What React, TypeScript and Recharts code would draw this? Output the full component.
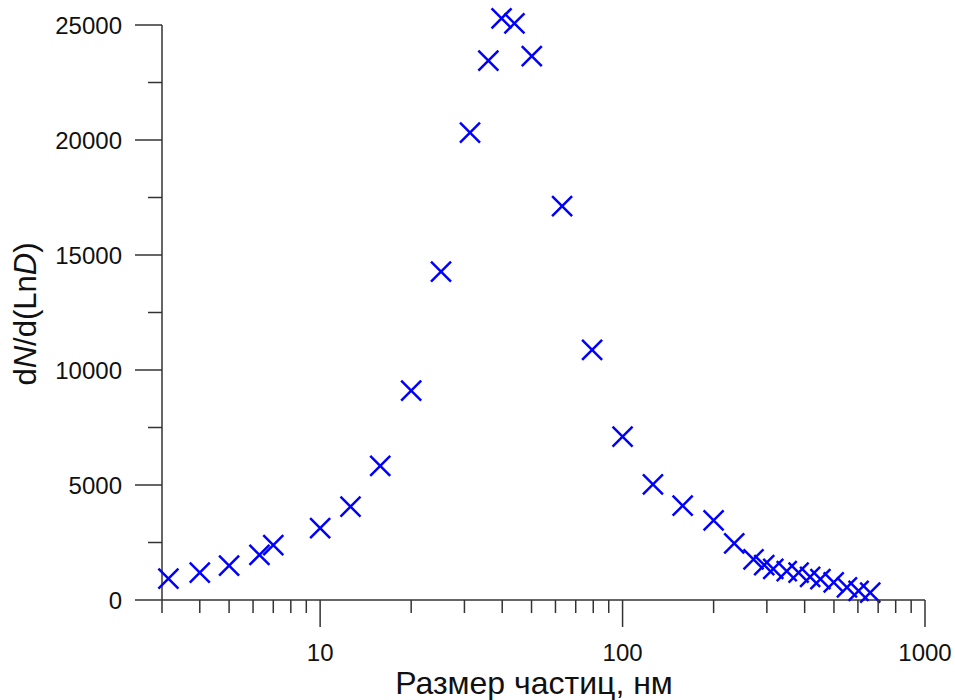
import { ScatterChart, Scatter, XAxis, YAxis } from "recharts";

// particle size, nm
const sizes = [
  3.15, 4.0, 5.0, 6.3, 7.0, 10, 12.6, 15.8, 20, 25.1, 31.3, 36, 39.8, 43.9, 50.1,
  63.1, 79.3, 100, 126, 158, 200, 234, 271, 294, 315, 349, 382, 417, 451, 499,
  552, 603, 659,
];
// dN/d(LnD)
const counts = [
  930, 1190, 1490, 1960, 2390, 3120, 4060, 5830, 9100, 14280, 20320, 23450, 25290,
  25070, 23650, 17130, 10870, 7100, 5030, 4100, 3460, 2460, 1770, 1520, 1350,
  1260, 1190, 1010, 910, 770, 550, 400, 320,
];

const xMajorTicks = [10, 100, 1000];
const xMinorTicks = [3, 4, 5, 6, 7, 8, 9, 20, 30, 40, 50, 60, 70, 80, 90, 200, 300, 400, 500, 600, 700, 800, 900];
const yTicks = [0, 2500, 5000, 7500, 10000, 12500, 15000, 17500, 20000, 22500, 25000];
const yLabelStep = 5000;

const data = sizes.map((x, i) => ({ x, y: counts[i] }));

const FONT = '"Liberation Sans", Arial, sans-serif';
const AXIS = "#333";
const MARK = "#0000ff";

function XTick(props: any) {
  const { x, y, payload } = props;
  const major = xMajorTicks.includes(payload.value);
  return (
    <g>
      <line x1={x} x2={x} y1={y} y2={y + (major ? 27 : 13)} stroke={AXIS} strokeWidth={1.5} />
      {major && (
        <text x={x} y={y + 61} textAnchor="middle" fontSize={24} fontFamily={FONT} fill="#111">
          {payload.value}
        </text>
      )}
    </g>
  );
}

function YTick(props: any) {
  const { x, y, payload } = props;
  const major = payload.value % yLabelStep === 0;
  return (
    <g>
      <line x1={x - (major ? 27 : 14)} x2={x} y1={y} y2={y} stroke={AXIS} strokeWidth={1.5} />
      {major && (
        <text x={x - 40} y={y + 9} textAnchor="end" fontSize={24} fontFamily={FONT} fill="#111">
          {payload.value}
        </text>
      )}
    </g>
  );
}

function Cross(props: any) {
  const { cx, cy } = props;
  const r = 10;
  return (
    <path
      d={`M${cx - r},${cy - r}L${cx + r},${cy + r}M${cx - r},${cy + r}L${cx + r},${cy - r}`}
      stroke={MARK}
      strokeWidth={2.5}
      fill="none"
    />
  );
}

export default function App() {
  return (
    <div style={{ position: "absolute", left: 0, top: 0, background: "#fff" }}>
      {/* points above 25000 must not be clipped at the top of the plot */}
      <style>{`.recharts-scatter, .recharts-scatter-symbol { clip-path: none !important; }`}</style>
      <ScatterChart width={955} height={700} margin={{ top: 25, right: 30, bottom: 0, left: 0 }}>
        <XAxis
          type="number"
          dataKey="x"
          scale="log"
          domain={[3, 1000]}
          allowDataOverflow
          ticks={[...xMinorTicks, ...xMajorTicks].sort((a, b) => a - b)}
          interval={0}
          height={100}
          tickSize={0}
          tickMargin={0}
          tickLine={false}
          tick={<XTick />}
          axisLine={{ stroke: AXIS, strokeWidth: 1.5 }}
          label={{
            content: () => (
              <text x={534} y={694} textAnchor="middle" fontSize={32} fontFamily={FONT} fill="#111">
                Размер частиц, нм
              </text>
            ),
          }}
        />
        <YAxis
          type="number"
          dataKey="y"
          domain={[0, 25000]}
          allowDataOverflow
          ticks={yTicks}
          interval={0}
          width={162}
          tickSize={0}
          tickMargin={0}
          tickLine={false}
          tick={<YTick />}
          axisLine={{ stroke: AXIS, strokeWidth: 1.5 }}
          label={{
            content: () => (
              <text
                x={36}
                y={314}
                transform="rotate(-90, 36, 314)"
                textAnchor="middle"
                fontSize={31}
                fontFamily={FONT}
                fill="#111"
              >
                d<tspan fontStyle="italic">N</tspan>/d(Ln<tspan fontStyle="italic">D</tspan>)
              </text>
            ),
          }}
        />
        <Scatter data={data} shape={<Cross />} isAnimationActive={false} />
      </ScatterChart>
    </div>
  );
}
